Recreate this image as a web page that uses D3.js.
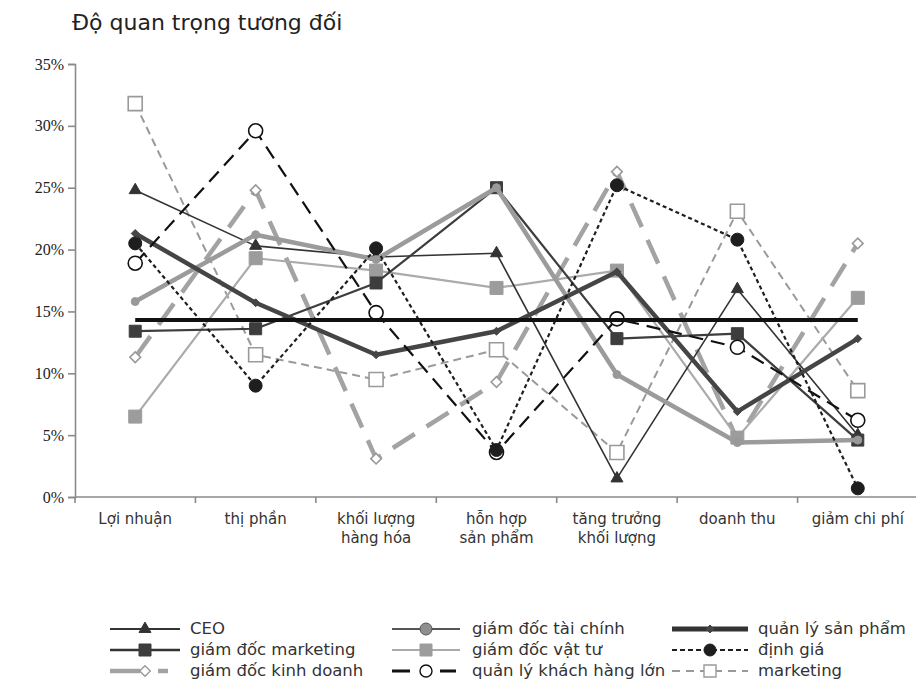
<!DOCTYPE html>
<html>
<head>
<meta charset="utf-8">
<script src="https://cdn.jsdelivr.net/npm/d3@7"></script>
<style>
  html, body { margin: 0; padding: 0; background: #fff; }
  svg { display: block; }
</style>
</head>
<body>
<svg id="chart" width="920" height="698"></svg>
<script>
// Categories (multi-line labels) and y-axis ticks
const categories = [
  ["Lợi nhuận"],
  ["thị phần"],
  ["khối lượng", "hàng hóa"],
  ["hỗn hợp", "sản phẩm"],
  ["tăng trưởng", "khối lượng"],
  ["doanh thu"],
  ["giảm chi phí"]
];
const yTicks = [0, 5, 10, 15, 20, 25, 30, 35];

// Relative importance (%) per role
const ceo            = [24.8, 20.3, 19.4, 19.7, 1.5, 16.8, 5.0];
const gdTaiChinh     = [15.8, 21.2, 19.2, 25.0, 9.9, 4.4, 4.6];
const qlSanPham      = [21.3, 15.7, 11.5, 13.4, 18.2, 6.9, 12.8];
const gdMarketing    = [13.4, 13.6, 17.3, 25.0, 12.8, 13.2, 4.6];
const gdVatTu        = [6.5, 19.3, 18.3, 16.9, 18.3, 4.8, 16.1];
const dinhGia        = [20.5, 9.0, 20.1, 3.8, 25.2, 20.8, 0.7];
const gdKinhDoanh    = [11.3, 24.8, 3.1, 9.3, 26.3, 4.6, 20.5];
const qlKhachHangLon = [18.9, 29.6, 14.9, 3.6, 14.4, 12.1, 6.2];
const marketing      = [31.8, 11.5, 9.5, 11.9, 3.6, 23.1, 8.6];
const trongSoDeu     = [14.3, 14.3, 14.3, 14.3, 14.3, 14.3, 14.3];

const seriesNames = [
  "CEO", "giám đốc tài chính", "quản lý sản phẩm",
  "giám đốc marketing", "giám đốc vật tư", "định giá",
  "giám đốc kinh doanh", "quản lý khách hàng lớn", "marketing"
];

const sansFont = "'DejaVu Sans', 'Noto Sans', sans-serif";

// Visual styles: line + marker in the plot, separate sample style in the legend
const styles = {
  "CEO":                  { values: ceo, stroke: "#333", width: 1.6, dash: null, marker: "triangle", mFill: "#333", mStroke: "#333", mSize: 12,
                            lg: { stroke: "#333", width: 2, dash: null } },
  "giám đốc tài chính":   { values: gdTaiChinh, stroke: "#9b9b9b", width: 4.5, dash: null, marker: "circle", mFill: "#999", mStroke: "#999", mSize: 8,
                            lg: { stroke: "#555", width: 2, dash: null, mFill: "#8f8f8f", mStroke: "#555", mSize: 12 } },
  "quản lý sản phẩm":     { values: qlSanPham, stroke: "#454545", width: 4.5, dash: null, marker: "diamond", mFill: "#454545", mStroke: "#454545", mSize: 9,
                            lg: { stroke: "#333", width: 5, dash: null } },
  "giám đốc marketing":   { values: gdMarketing, stroke: "#3d3d3d", width: 2.2, dash: null, marker: "square", mFill: "#3d3d3d", mStroke: "#3d3d3d", mSize: 12,
                            lg: { stroke: "#333", width: 2.5, dash: null } },
  "giám đốc vật tư":      { values: gdVatTu, stroke: "#ababab", width: 2.2, dash: null, marker: "square", mFill: "#9c9c9c", mStroke: "#9c9c9c", mSize: 13,
                            lg: { stroke: "#aaa", width: 2, dash: null } },
  "định giá":             { values: dinhGia, stroke: "#1e1e1e", width: 2.2, dash: "4,3", marker: "circle", mFill: "#1e1e1e", mStroke: "#1e1e1e", mSize: 13,
                            lg: { stroke: "#1e1e1e", width: 2.2, dash: "5,3" } },
  "giám đốc kinh doanh":  { values: gdKinhDoanh, stroke: "#a3a3a3", width: 4.5, dash: "26,14", marker: "diamond", mFill: "#fff", mStroke: "#999", mSize: 12,
                            lg: { stroke: "#a3a3a3", width: 4.5, dash: "30,18,10,20" } },
  "quản lý khách hàng lớn": { values: qlKhachHangLon, stroke: "#111", width: 2.2, dash: "14,8", marker: "circle", mFill: "#fff", mStroke: "#111", mSize: 14,
                            lg: { stroke: "#111", width: 3, dash: "18,30,16,10" } },
  "marketing":            { values: marketing, stroke: "#9a9a9a", width: 2, dash: "8,5", marker: "square", mFill: "#fff", mStroke: "#9a9a9a", mSize: 14,
                            lg: { stroke: "#9a9a9a", width: 2, dash: "8,6" } }
};

// Draw order in the plot (back to front)
const drawOrder = [
  "marketing", "giám đốc kinh doanh", "giám đốc vật tư", "CEO",
  "giám đốc marketing", "giám đốc tài chính", "quản lý sản phẩm",
  "quản lý khách hàng lớn", "định giá"
];

const svg = d3.select("#chart");
const left = 75;

const x = d3.scaleBand()
  .domain(d3.range(categories.length))
  .range([left, 918])
  .paddingInner(0).paddingOuter(0);
const y = d3.scaleLinear().domain([0, 35]).range([497, 64]);
const cx = i => x(i) + x.bandwidth() / 2;

// Title
svg.append("text")
  .attr("x", 72).attr("y", 30)
  .attr("font-family", sansFont)
  .attr("font-size", 22)
  .attr("fill", "#222")
  .text("Độ quan trọng tương đối");

// Y axis
const yAxis = d3.axisLeft(y)
  .tickValues(yTicks)
  .tickFormat(d => d + "%")
  .tickSize(7)
  .tickPadding(4);
const yg = svg.append("g").attr("transform", `translate(${left},0)`).call(yAxis);
yg.select(".domain").attr("stroke", "#8a8a8a").attr("stroke-width", 1.6);
yg.selectAll(".tick line").attr("stroke", "#8a8a8a").attr("stroke-width", 1.6);
yg.selectAll(".tick text")
  .attr("font-family", "'Liberation Serif', 'Times New Roman', serif")
  .attr("font-size", 16)
  .attr("fill", "#222");

// X axis: line along the bottom with ticks at band boundaries
const xg = svg.append("g");
xg.append("line")
  .attr("x1", left).attr("x2", 916)
  .attr("y1", y(0)).attr("y2", y(0))
  .attr("stroke", "#8a8a8a").attr("stroke-width", 1.6);
const bounds = d3.range(categories.length).map(i => x(i));
xg.selectAll("line.xt").data(bounds).join("line")
  .attr("class", "xt")
  .attr("x1", d => d).attr("x2", d => d)
  .attr("y1", y(0)).attr("y2", y(0) + 6)
  .attr("stroke", "#8a8a8a").attr("stroke-width", 1.6);

const lbl = xg.selectAll("text.cat").data(categories).join("text")
  .attr("class", "cat")
  .attr("text-anchor", "middle")
  .attr("font-family", sansFont)
  .attr("font-size", 15)
  .attr("fill", "#333");
lbl.each(function(lines, i) {
  const t = d3.select(this);
  lines.forEach((ln, k) => {
    t.append("tspan").attr("x", cx(i)).attr("y", 524 + k * 19).text(ln);
  });
});

// Marker path generator
function markerPath(type, size) {
  const map = {
    triangle: d3.symbolTriangle,
    square: d3.symbolSquare,
    diamond: d3.symbolDiamond2,
    circle: d3.symbolCircle
  };
  let area;
  if (type === "square") area = size * size;
  else if (type === "circle") area = Math.PI * (size / 2) * (size / 2);
  else if (type === "triangle") area = size * size * Math.sqrt(3) / 4;
  else area = size * size / 2;
  return d3.symbol().type(map[type]).size(area)();
}

const line = d3.line().x((d, i) => cx(i)).y(d => y(d));
const plot = svg.append("g");

drawOrder.forEach(name => {
  const s = styles[name];
  const g = plot.append("g");
  g.append("path")
    .attr("d", line(s.values))
    .attr("fill", "none")
    .attr("stroke", s.stroke)
    .attr("stroke-width", s.width)
    .attr("stroke-dasharray", s.dash)
    .attr("stroke-linejoin", "round");
  g.selectAll("path.m").data(s.values).join("path")
    .attr("class", "m")
    .attr("transform", (d, i) => `translate(${cx(i)},${y(d)})`)
    .attr("d", markerPath(s.marker, s.mSize))
    .attr("fill", s.mFill)
    .attr("stroke", s.mStroke)
    .attr("stroke-width", s.mFill === "#fff" ? 1.6 : 1);
});

// Equal-weight reference line (1/7)
plot.append("path")
  .attr("d", line(trongSoDeu))
  .attr("fill", "none")
  .attr("stroke", "#111")
  .attr("stroke-width", 4);

// Legend: 3 columns x 3 rows
const legendCols = [
  { x0: 110, x1: 180, tx: 190 },
  { x0: 392, x1: 460, tx: 472 },
  { x0: 672, x1: 748, tx: 758 }
];
const legendRows = [629, 650, 671];
const legend = svg.append("g");
seriesNames.forEach((name, idx) => {
  const col = legendCols[idx % 3];
  const row = legendRows[Math.floor(idx / 3)];
  const s = styles[name];
  const lg = s.lg;
  const g = legend.append("g");
  g.append("line")
    .attr("x1", col.x0).attr("x2", col.x1)
    .attr("y1", row).attr("y2", row)
    .attr("stroke", lg.stroke)
    .attr("stroke-width", lg.width)
    .attr("stroke-dasharray", lg.dash);
  const mx = (col.x0 + col.x1) / 2;
  g.append("path")
    .attr("transform", `translate(${mx},${row})`)
    .attr("d", markerPath(s.marker, lg.mSize || Math.min(s.mSize, 12)))
    .attr("fill", lg.mFill || s.mFill)
    .attr("stroke", lg.mStroke || s.mStroke)
    .attr("stroke-width", (lg.mFill || s.mFill) === "#fff" ? 1.4 : 1);
  g.append("text")
    .attr("x", col.tx).attr("y", row + 5)
    .attr("font-family", sansFont)
    .attr("font-size", 16.5)
    .attr("fill", "#333")
    .text(name);
});
</script>
</body>
</html>
